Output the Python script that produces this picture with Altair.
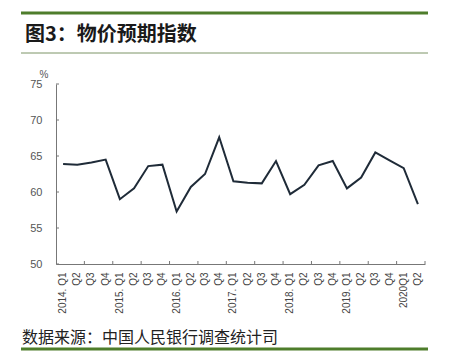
import json
import altair as alt
import pandas as pd

# ---- data ----
quarter_keys = [
    "2014Q1", "2014Q2", "2014Q3", "2014Q4",
    "2015Q1", "2015Q2", "2015Q3", "2015Q4",
    "2016Q1", "2016Q2", "2016Q3", "2016Q4",
    "2017Q1", "2017Q2", "2017Q3", "2017Q4",
    "2018Q1", "2018Q2", "2018Q3", "2018Q4",
    "2019Q1", "2019Q2", "2019Q3", "2019Q4",
    "2020Q1", "2020Q2",
]
quarter_labels = [
    "2014. Q1", "Q2", "Q3", "Q4",
    "2015. Q1", "Q2", "Q3", "Q4",
    "2016. Q1", "Q2", "Q3", "Q4",
    "2017. Q1", "Q2", "Q3", "Q4",
    "2018. Q1", "Q2", "Q3", "Q4",
    "2019. Q1", "Q2", "Q3", "Q4",
    "2020Q1", "Q2",
]
price_expect = [
    63.9, 63.8, 64.1, 64.5,
    59.0, 60.5, 63.6, 63.8,
    57.3, 60.7, 62.5, 67.6,
    61.5, 61.3, 61.2, 64.3,
    59.7, 61.0, 63.7, 64.3,
    60.5, 62.0, 65.5, 64.4,
    63.3, 58.3,
]
y_ticks = [50, 55, 60, 65, 70, 75]
title_text = "图3：物价预期指数"
source_text = "数据来源：中国人民银行调查统计司"
unit_text = "%"

df = pd.DataFrame({"q": quarter_keys, "v": price_expect})
xtick_df = pd.DataFrame({"q": quarter_keys[1::2]})
ytick_df = pd.DataFrame({"v": y_ticks})

W, H = 369, 180
GREEN = "#4e7d2b"
LABEL_FONT = "Liberation Sans"
CJK = "Noto Sans CJK SC"

label_map = json.dumps(dict(zip(quarter_keys, quarter_labels)), ensure_ascii=False)

x_scale = alt.Scale(type="band", domain=quarter_keys, paddingInner=0, paddingOuter=0)
y_scale = alt.Scale(domain=[50, 75], nice=False, zero=False)

x_axis = alt.Axis(title=None, ticks=False, tickSize=0, labelAngle=270,
                  labelAlign="right", labelBaseline="middle",
                  labelPadding=8, labelFont=LABEL_FONT, labelFontSize=10,
                  labelColor="#444444", domainColor="#777777",
                  labelOverlap=False,
                  labelExpr=f"{label_map}[datum.value]", grid=False)
y_axis = alt.Axis(title=None, values=y_ticks, ticks=False, tickSize=0,
                  labelPadding=14, labelFont=LABEL_FONT, labelFontSize=11,
                  labelColor="#555555", domainColor="#777777", grid=False,
                  labelOverlap=False, labelFlush=False)

line = alt.Chart(df).mark_line(color="#1f2b38", strokeWidth=2).encode(
    x=alt.X("q:N", scale=x_scale, sort=quarter_keys, axis=x_axis),
    y=alt.Y("v:Q", scale=y_scale, axis=y_axis),
)

xticks = alt.Chart(xtick_df).mark_rule(color="#777777", strokeWidth=1).encode(
    x=alt.X("q:N", scale=x_scale, sort=quarter_keys, bandPosition=1, axis=x_axis),
    y=alt.value(H),
    y2=alt.value(H - 3),
)

yticks = alt.Chart(ytick_df).mark_rule(color="#777777", strokeWidth=1).encode(
    y=alt.Y("v:Q", scale=y_scale, axis=y_axis),
    x=alt.value(0),
    x2=alt.value(3),
)

one = alt.Data(values=[{"a": 1}])

top_green = alt.Chart(one).mark_rule(color=GREEN, strokeWidth=3).encode(
    x=alt.value(-35), x2=alt.value(372), y=alt.value(-71))
thin_line = alt.Chart(one).mark_rule(color="#7c9466", strokeWidth=1).encode(
    x=alt.value(-35), x2=alt.value(372), y=alt.value(-31))
bottom_green = alt.Chart(one).mark_rule(color=GREEN, strokeWidth=3).encode(
    x=alt.value(-35), x2=alt.value(372), y=alt.value(265))

title = alt.Chart(one).mark_text(
    text=title_text, font=CJK, fontSize=20, fontWeight="bold", color="#1a1a1a",
    align="left", baseline="alphabetic").encode(x=alt.value(-31), y=alt.value(-43))
source = alt.Chart(one).mark_text(
    text=source_text, font=CJK, fontSize=16, color="#222222",
    align="left", baseline="alphabetic").encode(x=alt.value(-34), y=alt.value(259))
unit = alt.Chart(one).mark_text(
    text=unit_text, font=LABEL_FONT, fontSize=10, color="#555555",
    align="center", baseline="middle").encode(x=alt.value(-12), y=alt.value(-9))

chart = alt.layer(
    line, xticks, yticks, top_green, thin_line, bottom_green, title, source, unit
).properties(
    width=W, height=H,
    autosize=alt.AutoSizeParams(type="none"),
    padding={"left": 56, "top": 84, "right": 24, "bottom": 88},
    background="white",
).configure_view(stroke=None)

chart.save("out.html", embed_options={"renderer": "svg", "actions": False})
